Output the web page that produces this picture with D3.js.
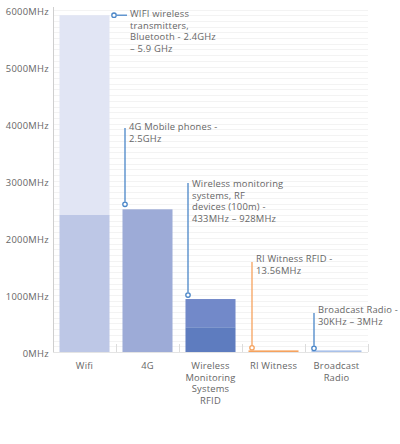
<!DOCTYPE html>
<html><head><meta charset="utf-8">
<script src="https://cdn.jsdelivr.net/npm/d3@7"></script>
<style>body{margin:0;background:#fff}svg{display:block}text{font-family:"Open Sans",sans-serif}</style>
</head><body><svg id="c" width="400" height="444"></svg>
<script>
const categories = ["Wifi","4G","Wireless Monitoring Systems RFID","RI Witness","Broadcast Radio"];
const categoryLabelLines = [["Wifi"],["4G"],["Wireless","Monitoring","Systems","RFID"],["RI Witness"],["Broadcast","Radio"]];
const lowerValues = [2400, 2500, 433, 13.56, 3];
const upperValues = [5900, 2500, 928, 13.56, 3];
const yTicks = [0,1000,2000,3000,4000,5000,6000];
const yTickLabels = ["0MHz","1000MHz","2000MHz","3000MHz","4000MHz","5000MHz","6000MHz"];
const annotationValues = [5900, 2500, 928, 13.56, 3];
const annotationTexts = [
  ["WIFI wireless","transmitters,","Bluetooth - 2.4GHz","– 5.9 GHz"],
  ["4G Mobile phones -","2.5GHz"],
  ["Wireless monitoring","systems, RF","devices (100m) -","433MHz – 928MHz"],
  ["RI Witness RFID -","13.56MHz"],
  ["Broadcast Radio -","30KHz – 3MHz"]
];

const lowerColors = ["#bdc7e6","#9dabd7","#5e7cbf","#f6a25e","#a9c1e9"];
const upperColors = ["#e1e5f4","#9dabd7","#7289c9","#f6a25e","#a9c1e9"];
const annColors = ["#4a86c8","#4a86c8","#4a86c8","#f6a25e","#4a86c8"];

(function(){
const svg = d3.select("#c");
const mLeft = 53, mRight = 368, mBottom = 352, mTop = 9.5;
const fs = 9.4;
const x = d3.scaleBand().domain(categories).range([mLeft,mRight]).paddingInner(0.206).paddingOuter(0.103);
const y = d3.scaleLinear().domain([0,6000]).range([mBottom, mTop]);
const step = x.step();

// grid
svg.append("g").selectAll("line").data(d3.range(100, 6001, 100)).join("line")
  .attr("x1", mLeft).attr("x2", mRight).attr("y1", d=>Math.round(y(d))+0.5).attr("y2", d=>Math.round(y(d))+0.5)
  .attr("stroke", "#f3f3f3").attr("stroke-width", 1);

// axes
svg.append("line").attr("x1", mLeft+0.5).attr("x2", mLeft+0.5).attr("y1", 7).attr("y2", mBottom).attr("stroke","#cfcfcf");
svg.append("line").attr("x1", mLeft).attr("x2", mRight).attr("y1", mBottom+0.5).attr("y2", mBottom+0.5).attr("stroke","#e4e4e4");
svg.append("g").selectAll("line").data(d3.range(1,6)).join("line")
  .attr("x1", d=>Math.round(mLeft+d*step)+0.5).attr("x2", d=>Math.round(mLeft+d*step)+0.5)
  .attr("y1", mBottom-8).attr("y2", mBottom).attr("stroke","#dcdcdc");

svg.append("g").selectAll("text").data(yTicks).join("text")
  .attr("x", 49).attr("y", d=>y(d)+5).attr("text-anchor","end").attr("letter-spacing", 0.3)
  .attr("font-size", fs).attr("fill","#666").text((d,i)=>yTickLabels[i]);

// bars
const bw = x.bandwidth();
categories.forEach((c,i)=>{
  const x0 = x(c);
  if (upperValues[i] > lowerValues[i]) {
    svg.append("rect").attr("x", x0).attr("width", bw)
      .attr("y", y(upperValues[i])).attr("height", y(lowerValues[i]) - y(upperValues[i]))
      .attr("fill", upperColors[i]);
  }
  const h = Math.max(y(0)-y(lowerValues[i]), 0);
  if (h < 2) {
    svg.append("rect").attr("x", x0).attr("width", bw).attr("y", mBottom-1.6).attr("height", 1.6).attr("fill", lowerColors[i]);
  } else {
    svg.append("rect").attr("x", x0).attr("width", bw).attr("y", y(lowerValues[i])).attr("height", h).attr("fill", lowerColors[i]);
  }
});

// annotations
const annLayout = [
  {dx: 61, dy: 0, lineTop: null, tx: 77},
  {dx: 9, dy: -5, lineTop: 128, tx: 13},
  {dx: 9, dy: -4, lineTop: 183, tx: 13},
  {dx: 10, dy: -3.5, lineTop: 262, tx: 14},
  {dx: 9, dy: -3.5, lineTop: 313, tx: 13}
];
const textTops = [14, 127, 184, 259, 310];
categories.forEach((c,i)=>{
  const L = annLayout[i];
  const band0 = mLeft + i*step;
  const cx = band0 + L.dx, cy = y(annotationValues[i]) + L.dy;
  const col = annColors[i];
  if (L.lineTop === null) {
    svg.append("line").attr("x1", cx+2.5).attr("x2", cx+13).attr("y1", cy).attr("y2", cy).attr("stroke", col).attr("stroke-width",1.3);
  } else {
    svg.append("line").attr("x1", cx).attr("x2", cx).attr("y1", L.lineTop).attr("y2", cy-2.5).attr("stroke", col).attr("stroke-width",1.3);
  }
  svg.append("circle").attr("cx", cx).attr("cy", cy).attr("r", 2.2).attr("fill","#fff").attr("stroke", col).attr("stroke-width",1.3);
  const t = svg.append("text").attr("font-size", fs).attr("fill","#666").attr("letter-spacing", 0.2);
  annotationTexts[i].forEach((s,k)=>{
    t.append("tspan").attr("x", band0 + L.tx).attr("y", textTops[i]+3+k*11.6).text(s);
  });
});

// category labels
categories.forEach((c,i)=>{
  const t = svg.append("text").attr("text-anchor","middle").attr("font-size", fs).attr("fill","#666").attr("letter-spacing", 0.2);
  categoryLabelLines[i].forEach((s,k)=>{
    t.append("tspan").attr("x", x(c)+bw/2).attr("y", 369 + k*11.7).text(s);
  });
});
})();
</script></body></html>
